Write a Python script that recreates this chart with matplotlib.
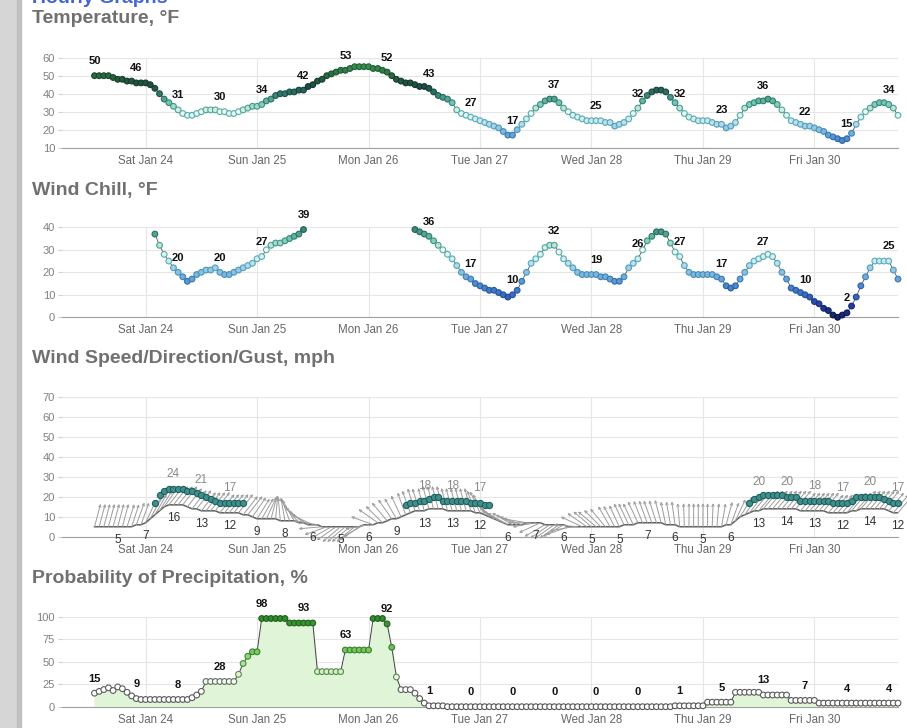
import numpy as np
import pandas as pd
import matplotlib
matplotlib.use('Agg')
import matplotlib.pyplot as plt
import matplotlib.dates as mdates
from matplotlib.colors import LinearSegmentedColormap
from matplotlib.patches import Rectangle

plt.rcParams['font.family'] = ['Liberation Sans', 'DejaVu Sans']

nan = np.nan

# hourly forecast, Fri Jan 23 13:00 -> Fri Jan 30 18:00
times = pd.date_range('2026-01-23 13:00', periods=174, freq='h')
x_start = pd.Timestamp('2026-01-23 06:00')
x_end = pd.Timestamp('2026-01-30 18:00')

temperature = [
    50, 50, 50, 50, 49, 48, 48, 47, 47, 46, 46, 46,
    45, 43, 40, 37, 35, 33, 31, 29, 28, 28, 29, 30,
    31, 31, 31, 30, 30, 29, 29, 30, 31, 32, 33, 33,
    34, 36, 37, 39, 40, 40, 41, 41, 42, 42, 44, 45,
    47, 48, 50, 51, 52, 53, 53, 54, 55, 55, 55, 55,
    54, 54, 53, 52, 50, 48, 47, 46, 46, 45, 44, 44,
    43, 41, 39, 38, 37, 35, 31, 29, 28, 27, 26, 25,
    24, 23, 22, 21, 19, 17, 17, 20, 23, 26, 29, 32,
    34, 36, 37, 37, 35, 32, 30, 28, 27, 26, 25, 25,
    25, 25, 24, 24, 22, 23, 24, 26, 29, 32, 36, 39,
    41, 42, 42, 41, 38, 35, 32, 29, 27, 26, 25, 25,
    25, 24, 23, 23, 21, 22, 24, 28, 32, 34, 35, 36,
    36, 37, 36, 34, 31, 28, 25, 24, 23, 22, 22, 21,
    20, 19, 17, 16, 15, 14, 15, 18, 23, 27, 30, 32,
    34, 35, 35, 34, 32, 28,
]

wind_chill = [nan] * 13 + [
    37, 32, 28, 25, 22, 20, 18, 16, 17, 19, 20, 21, 21, 22, 20, 19, 19,
    20, 21, 22, 23, 24, 26, 27, 30, 32, 33, 33, 34, 35, 36, 37, 39,
] + [nan] * 23 + [
    39, 38, 37, 36, 34, 32, 30, 28, 26, 23, 20, 18,
    17, 15, 14, 13, 12, 12, 11, 10, 9, 10, 12, 16,
    20, 24, 26, 28, 31, 32, 32, 29, 26, 24, 22, 20,
    19, 19, 19, 19, 18, 18, 17, 16, 16, 18, 22, 24,
    26, 30, 34, 36, 38, 38, 37, 33, 29, 27, 23, 20,
    19, 19, 19, 19, 19, 18, 17, 14, 13, 14, 17, 20,
    23, 25, 26, 27, 28, 27, 24, 20, 17, 13, 12, 11,
    10, 9, 7, 6, 4, 3, 1, 0, 1, 2, 5, 9,
    14, 18, 22, 25, 25, 25, 25, 21, 17,
]

wind_speed = [
    5, 5, 5, 5, 5, 5, 5, 5, 5, 6, 6,
    7, 9, 11, 13, 15, 16,
    16, 16, 16, 15, 14, 14,
    13, 13, 13, 13, 12, 12,
    12, 12, 12, 11, 11, 10,
    9, 9, 9, 9, 9, 8,
    8, 8, 8, 7, 7, 6,
    6, 6, 5, 5, 5, 5,
    5, 5, 5, 5, 5, 6,
    6, 6, 7, 7, 8, 9,
    9, 10, 11, 12, 13, 13,
    13, 14, 14, 14, 14, 13,
    13, 13, 13, 13, 13, 12,
    12, 11, 10, 9, 8, 7,
    6, 6, 6, 6, 7, 7,
    7, 7, 6, 6, 6, 6,
    6, 5, 5, 5, 5, 5,
    5, 5, 5, 5, 5, 5,
    5, 6, 6, 6, 7, 7,
    7, 7, 7, 7, 6, 6,
    6, 5, 5, 5, 5, 5,
    5, 5, 5, 5, 5, 6,
    6, 8, 10, 11, 12, 13,
    13, 14, 14, 14, 14, 14,
    14, 14, 14, 13, 13, 13,
    13, 13, 13, 12, 12, 12,
    12, 12, 13, 13, 14, 14,
    14, 14, 14, 14, 13, 12, 12,
]

wind_gust = [nan] * 13 + [
    17, 21, 23, 24, 24, 24, 24, 23, 23, 22, 21, 20, 19, 18, 17, 17, 17, 17, 17, 17,
] + [nan] * 34 + [
    16, 17, 17, 18, 18, 19, 20, 20, 18, 18, 18, 18, 18, 18, 17, 17, 17, 16, 16,
] + [nan] * 55 + [
    17, 19, 20, 21, 21, 21, 21, 21, 20, 20, 20, 18, 18, 18, 18, 18, 18,
    18, 17, 17, 17, 17, 18, 20, 20, 20, 20, 20, 20, 19, 18, 17, 17,
]

# direction the wind blows from, degrees
wind_dir = [
    195, 195, 195, 195, 195, 195, 195, 198, 198, 200, 200,
    205, 208, 210, 212, 215, 218,
    218, 218, 218, 218, 218, 218,
    218, 218, 218, 218, 218, 218,
    218, 218, 218, 218, 218, 215,
    212, 210, 205, 195, 185, 175,
    170, 160, 150, 140, 130, 125,
    115, 100, 85, 70, 60, 55,
    50, 50, 50, 50, 55, 60,
    80, 110, 125, 135, 140, 145,
    150, 155, 160, 160, 162, 162,
    165, 165, 165, 165, 165, 165,
    165, 165, 165, 165, 165, 160,
    155, 150, 140, 130, 125, 120,
    120, 120, 115, 110, 100, 90,
    80, 65, 60, 55, 55, 55,
    60, 70, 80, 95, 115, 125,
    130, 130, 135, 140, 150, 152,
    155, 155, 155, 155, 155, 158,
    160, 160, 162, 165, 168, 170,
    172, 175, 178, 180, 180, 180,
    180, 180, 182, 185, 190, 195,
    200, 205, 212, 215, 218, 220,
    220, 220, 220, 220, 220, 220,
    220, 220, 220, 220, 220, 220,
    220, 220, 220, 220, 220, 220,
    220, 220, 220, 220, 220, 220,
    220, 220, 220, 220, 220, 220, 220,
]

precip = [
    15, 17, 19, 21, 18, 22, 20, 16, 12, 9, 8, 8,
    8, 8, 8, 8, 8, 8, 8, 8, 8, 10, 13, 17,
    28, 28, 28, 28, 28, 28, 28, 36, 48, 56, 61, 61,
    98, 98, 98, 98, 98, 98, 93, 93, 93, 93, 93, 93,
    39, 39, 39, 39, 39, 39, 63, 63, 63, 63, 63, 63,
    98, 98, 98, 92, 66, 33, 19, 19, 19, 15, 9, 4,
    1, 1, 1, 1, 0, 0, 0, 0, 0, 0, 0, 0,
    0, 0, 0, 0, 0, 0, 0, 0, 0, 0, 0, 0,
    0, 0, 0, 0, 0, 0, 0, 0, 0, 0, 0, 0,
    0, 0, 0, 0, 0, 0, 0, 0, 0, 0, 0, 0,
    0, 0, 0, 0, 0, 1, 1, 1, 1, 1, 1, 1,
    5, 5, 5, 5, 5, 5, 16, 16, 16, 16, 16, 16,
    13, 13, 13, 13, 13, 13, 7, 7, 7, 7, 7, 7,
    4, 4, 4, 4, 4, 4, 4, 4, 4, 4, 4, 4,
    4, 4, 4, 4, 4, 4,
]

temperature = np.array(temperature, float)
wind_chill = np.array(wind_chill, float)
wind_speed = np.array(wind_speed, float)
wind_gust = np.array(wind_gust, float)
wind_dir = np.array(wind_dir, float)
precip = np.array(precip, float)

# colour scales
temp_cmap = LinearSegmentedColormap.from_list('tf', [
    (0 / 55, '#14206e'), (5 / 55, '#233c9e'), (10 / 55, '#3a6ec4'), (15 / 55, '#4f8fd2'),
    (20 / 55, '#86c2e4'), (25 / 55, '#c8eaf0'), (30 / 55, '#f0faf8'), (35 / 55, '#74c2b0'),
    (40 / 55, '#2f7a6c'), (44 / 55, '#1e4c44'), (48 / 55, '#245a3c'), (1, '#388c4e')])
temp_edge = LinearSegmentedColormap.from_list('te', [
    (0 / 55, '#0a123f'), (5 / 55, '#15286e'), (10 / 55, '#234f95'), (15 / 55, '#2f67a6'),
    (20 / 55, '#4c93b8'), (25 / 55, '#5aaab8'), (30 / 55, '#56ae9e'), (35 / 55, '#2f8a78'),
    (40 / 55, '#1b5048'), (44 / 55, '#123530'), (48 / 55, '#163d27'), (1, '#20603a')])
pop_cmap = LinearSegmentedColormap.from_list('pf', [
    (0, '#ffffff'), (0.25, '#ffffff'), (0.35, '#e4f5d8'), (0.55, '#96d67a'),
    (0.7, '#5cb845'), (1, '#2e8a2a')])
pop_edge = LinearSegmentedColormap.from_list('pe', [
    (0, '#555555'), (0.25, '#606060'), (0.35, '#5a8a50'), (0.55, '#3f8a35'),
    (0.7, '#2f7a28'), (1, '#1f5a1a')])

W, H = 907, 728
fig = plt.figure(figsize=(W / 100, H / 100), dpi=100)
fig.patch.set_facecolor('white')

# grey page margin on the left
fig.patches.append(Rectangle((0, 0), 17 / W, 1, transform=fig.transFigure,
                             color='#d6d6d6', zorder=0))
fig.patches.append(Rectangle((17 / W, 0), 4 / W, 1, transform=fig.transFigure,
                             color='#c0c0c0', zorder=0))

fig.text(32 / W, 1 - 3 / H, 'Hourly Graphs', color='#4464d4', fontsize=14,
         fontweight='bold', va='baseline')

TITLE_KW = dict(fontsize=14, fontweight='bold', color='#707070', va='baseline')


def px_axes(top, bottom, left=62, right=898):
    return fig.add_axes([left / W, 1 - bottom / H, (right - left) / W, (bottom - top) / H])


def style(ax, ylim, yticks):
    ax.set_xlim(x_start, x_end)
    ax.set_ylim(*ylim)
    ax.set_yticks(yticks)
    ax.xaxis.set_major_locator(mdates.DayLocator())
    ax.xaxis.set_major_formatter(mdates.DateFormatter('%a %b %d'))
    ax.grid(True, color='#e6e6e6', lw=0.8)
    ax.set_axisbelow(True)
    for s in ['top', 'right', 'left']:
        ax.spines[s].set_visible(False)
    ax.spines['bottom'].set_color('#a0a0a0')
    ax.tick_params(axis='x', length=0, pad=5, labelsize=8.3, labelcolor='#666666')
    ax.tick_params(axis='y', length=3, color='#d0d0d0', pad=2, labelsize=8,
                   labelcolor='#808080')


def label_points(ax, values, step, first, dy, **kw):
    opts = dict(ha='center', va='center', fontsize=8, fontweight='bold', color='#111111')
    opts.update(kw)
    for i in range(first, len(values), step):
        if not np.isnan(values[i]):
            ax.annotate(f'{values[i]:.0f}', (times[i], values[i]), xytext=(0, dy),
                        textcoords='offset points', annotation_clip=False, **opts)


def colour_points(ax, values, fill_cmap, edge_cmap, vmax, size=17):
    ok = ~np.isnan(values)
    v = values[ok] / vmax
    ax.scatter(times[ok], values[ok], s=size, c=fill_cmap(v), edgecolors=edge_cmap(v),
               linewidths=0.8, zorder=3, clip_on=False)


# ---- Temperature
fig.text(32 / W, 1 - 23 / H, 'Temperature, °F', **TITLE_KW)
ax1 = px_axes(57.7, 147.7)
style(ax1, (10, 60), range(10, 61, 10))
ax1.plot(times, temperature, color='#555555', lw=0.6, zorder=2)
colour_points(ax1, temperature, temp_cmap, temp_edge, 55)
label_points(ax1, temperature, 9, 0, 10.5)

# ---- Wind chill
fig.text(32 / W, 1 - 195 / H, 'Wind Chill, °F', **TITLE_KW)
ax2 = px_axes(227.3, 317.3)
style(ax2, (0, 40), range(0, 41, 10))
ax2.plot(times, wind_chill, color='#555555', lw=0.6, zorder=2)
colour_points(ax2, wind_chill, temp_cmap, temp_edge, 55)
label_points(ax2, wind_chill, 9, 0, 10.5)

# ---- Wind speed / direction / gust
fig.text(32 / W, 1 - 363 / H, 'Wind Speed/Direction/Gust, mph', **TITLE_KW)
ax3 = px_axes(397.3, 536.7)
style(ax3, (0, 70), range(0, 71, 10))
for t, s, d in zip(times, wind_speed, wind_dir):
    a = np.deg2rad(270 - d)
    ax3.annotate('', xy=(t, s), xytext=(17 * np.cos(a), 17 * np.sin(a)),
                 textcoords='offset points', annotation_clip=False,
                 arrowprops=dict(arrowstyle='<-, head_length=0.16, head_width=0.08',
                                 color='#9c9c9c', lw=0.7, shrinkA=0, shrinkB=0))
ax3.plot(times, wind_speed, color='#606060', lw=1.1, zorder=2)
gok = ~np.isnan(wind_gust)
ax3.scatter(times[gok], wind_gust[gok], s=20, color='#3f8f8c', edgecolors='#1f5f5c',
            linewidths=0.8, zorder=4, clip_on=False)
label_points(ax3, wind_speed, 6, 5, -9.5, fontsize=8.5, fontweight='normal', color='#333333')
label_points(ax3, wind_gust, 6, 5, 10.5, fontsize=8.5, fontweight='normal', color='#8a8a8a')

# ---- Probability of precipitation
fig.text(32 / W, 1 - 583 / H, 'Probability of Precipitation, %', **TITLE_KW)
ax4 = px_axes(616.7, 706.7)
style(ax4, (0, 100), [0, 25, 50, 75, 100])
ax4.fill_between(times, precip, 0, color='#e0f5d8', zorder=1)
ax4.plot(times, precip, color='#444444', lw=0.7, zorder=2)
colour_points(ax4, precip, pop_cmap, pop_edge, 100)
label_points(ax4, precip, 9, 0, 10.5)

fig.savefig('out.png', dpi=100, facecolor=fig.get_facecolor())
